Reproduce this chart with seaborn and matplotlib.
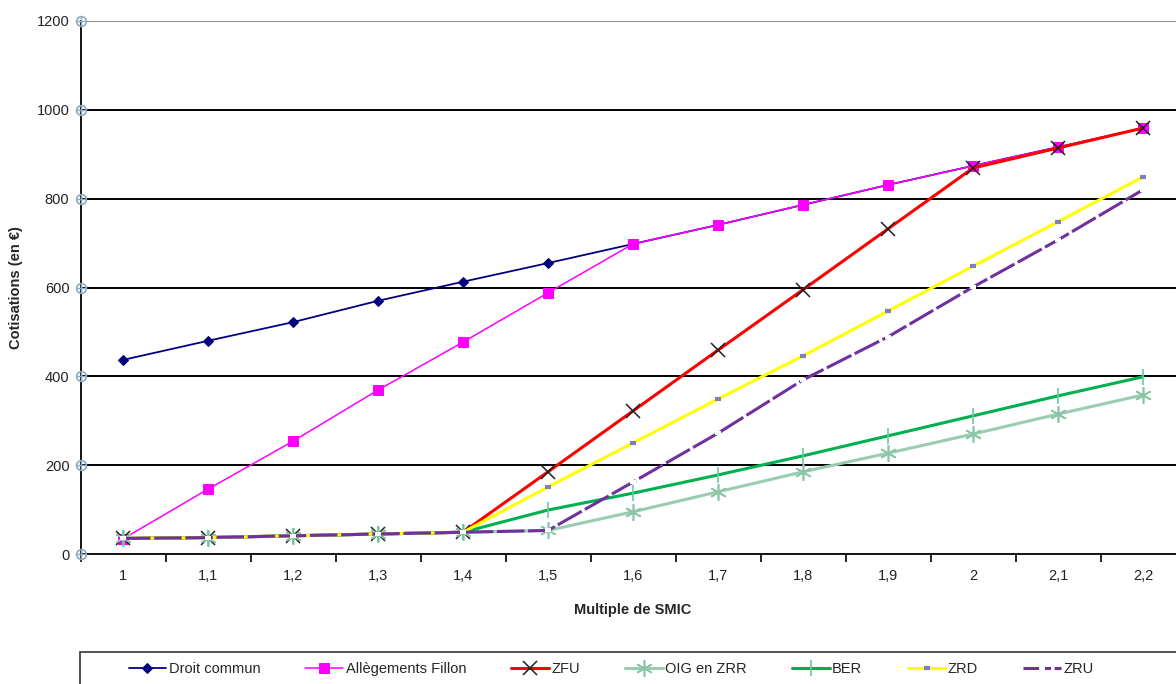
import numpy as np
import pandas as pd
import matplotlib
matplotlib.use("Agg")
import matplotlib.pyplot as plt
from matplotlib.patches import Rectangle
import seaborn as sns

# data
smic = ["1", "1,1", "1,2", "1,3", "1,4", "1,5", "1,6", "1,7", "1,8", "1,9", "2", "2,1", "2,2"]
droit_commun = [437, 480, 522, 570, 613, 655, 698, 741, 786, 831, 874, 916, 959]
fillon = [34, 146, 254, 369, 477, 588, 698, 741, 786, 831, 874, 916, 959]
zfu = [35, 37, 41, 45, 49, 185, 322, 459, 595, 732, 869, 914, 959]
oig_zrr = [35, 37, 41, 45, 49, 53, 95, 140, 185, 227, 270, 315, 358]
ber = [35, 37, 41, 45, 49, 99, 137, 178, 221, 266, 311, 356, 399]
zrd = [35, 37, 41, 45, 49, 151, 250, 349, 446, 547, 648, 748, 849]
zru = [35, 37, 41, 45, 49, 53, 162, 272, 392, 489, 601, 707, 820]

sns.set_theme(style="white")
plt.rcParams['font.family'] = ['Liberation Sans', 'DejaVu Sans']

fig = plt.figure(figsize=(11.76, 6.84), dpi=100)
ax = fig.add_axes([80.5 / 1176, (684 - 554) / 684, 1105 / 1176, 533 / 684])

pos = np.arange(len(smic))
series = [
    ("Droit commun", droit_commun, dict(color="#000080", lw=1.3, marker="D", ms=5, mfc="#000080", mec="#000080")),
    ("Allègements Fillon", fillon, dict(color="#FF00FF", lw=1.1, marker="s", ms=7, mfc="#FF00FF", mec="#FF00FF")),
    ("ZFU", zfu, dict(color="#FF0000", lw=2.2, marker="x", ms=10, mec="#202020", mew=1.1)),
    ("OIG en ZRR", oig_zrr, dict(color="#99CCB0", lw=2.2, marker=(6, 2, 0), ms=12, mec="#8CC4A8", mew=1.2)),
    ("BER", ber, dict(color="#00B050", lw=2.2, marker="|", ms=11, mec="#66CC99", mew=1.2)),
    ("ZRD", zrd, dict(color="#FFFF00", lw=2.2, marker="_", ms=5, mec="#7F7FC0", mew=3)),
    ("ZRU", zru, dict(color="#7030A0", lw=2.2, ls=(0, (9, 1.2)), marker="_", ms=5, mec="#FFFFFF", mew=3)),
]

for name, vals, style in series:
    df = pd.DataFrame({"pos": pos, "val": vals})
    sns.lineplot(data=df, x="pos", y="val", ax=ax, label=name, **style)

ax.set_xlim(-0.5, 12.5)
ax.set_ylim(0, 1200)
ax.set_yticks(range(0, 1201, 200))
ax.set_xticks(pos)
ax.set_xticklabels(smic)
ax.set_xticks(np.arange(-0.5, 13, 1), minor=True)
ax.tick_params(axis="x", which="major", length=0, labelsize=10.5, pad=11, colors="#222222")
ax.tick_params(axis="x", which="minor", length=6, width=1.2, color="black", direction="out", bottom=True)
ax.tick_params(axis="y", length=0, labelsize=10.5, pad=8, colors="#222222")

for y in range(200, 1201, 200):
    ax.axhline(y, color="black" if y < 1200 else "#888888", lw=1.4, zorder=0)
# circle tick marks on the y axis
ax.plot([-0.5] * 7, range(0, 1201, 200), ls="none", marker="o", ms=7, mfc="none",
        mec="#8FA9C0", mew=1.2, clip_on=False, zorder=5)
ax.plot([-0.5] * 7, range(0, 1201, 200), ls="none", marker="+", ms=7,
        mec="#8FA9C0", mew=1.0, clip_on=False, zorder=5)

for s in ["top", "right"]:
    ax.spines[s].set_visible(False)
for s in ["left", "bottom"]:
    ax.spines[s].set_color("black")
    ax.spines[s].set_linewidth(1.3)

ax.set_xlabel("Multiple de SMIC", fontsize=10.5, fontweight="bold", labelpad=14)
ax.set_ylabel("Cotisations (en €)", fontsize=10.5, fontweight="bold", labelpad=10)

handles, labels = ax.get_legend_handles_labels()
ax.legend_.remove()
fig.legend(handles, labels, loc="center", ncol=7,
           bbox_to_anchor=(611 / 1176, (684 - 669) / 684),
           frameon=False, fontsize=10.5, handlelength=2.6,
           handletextpad=0.15, borderaxespad=0, columnspacing=3.1)
fig.patches.append(Rectangle((80 / 1176, -0.05), 1.0, (684 - 652) / 684 + 0.05,
                             transform=fig.transFigure, fill=False,
                             edgecolor="#333333", lw=1.2))

fig.savefig("out.png", dpi=100)
